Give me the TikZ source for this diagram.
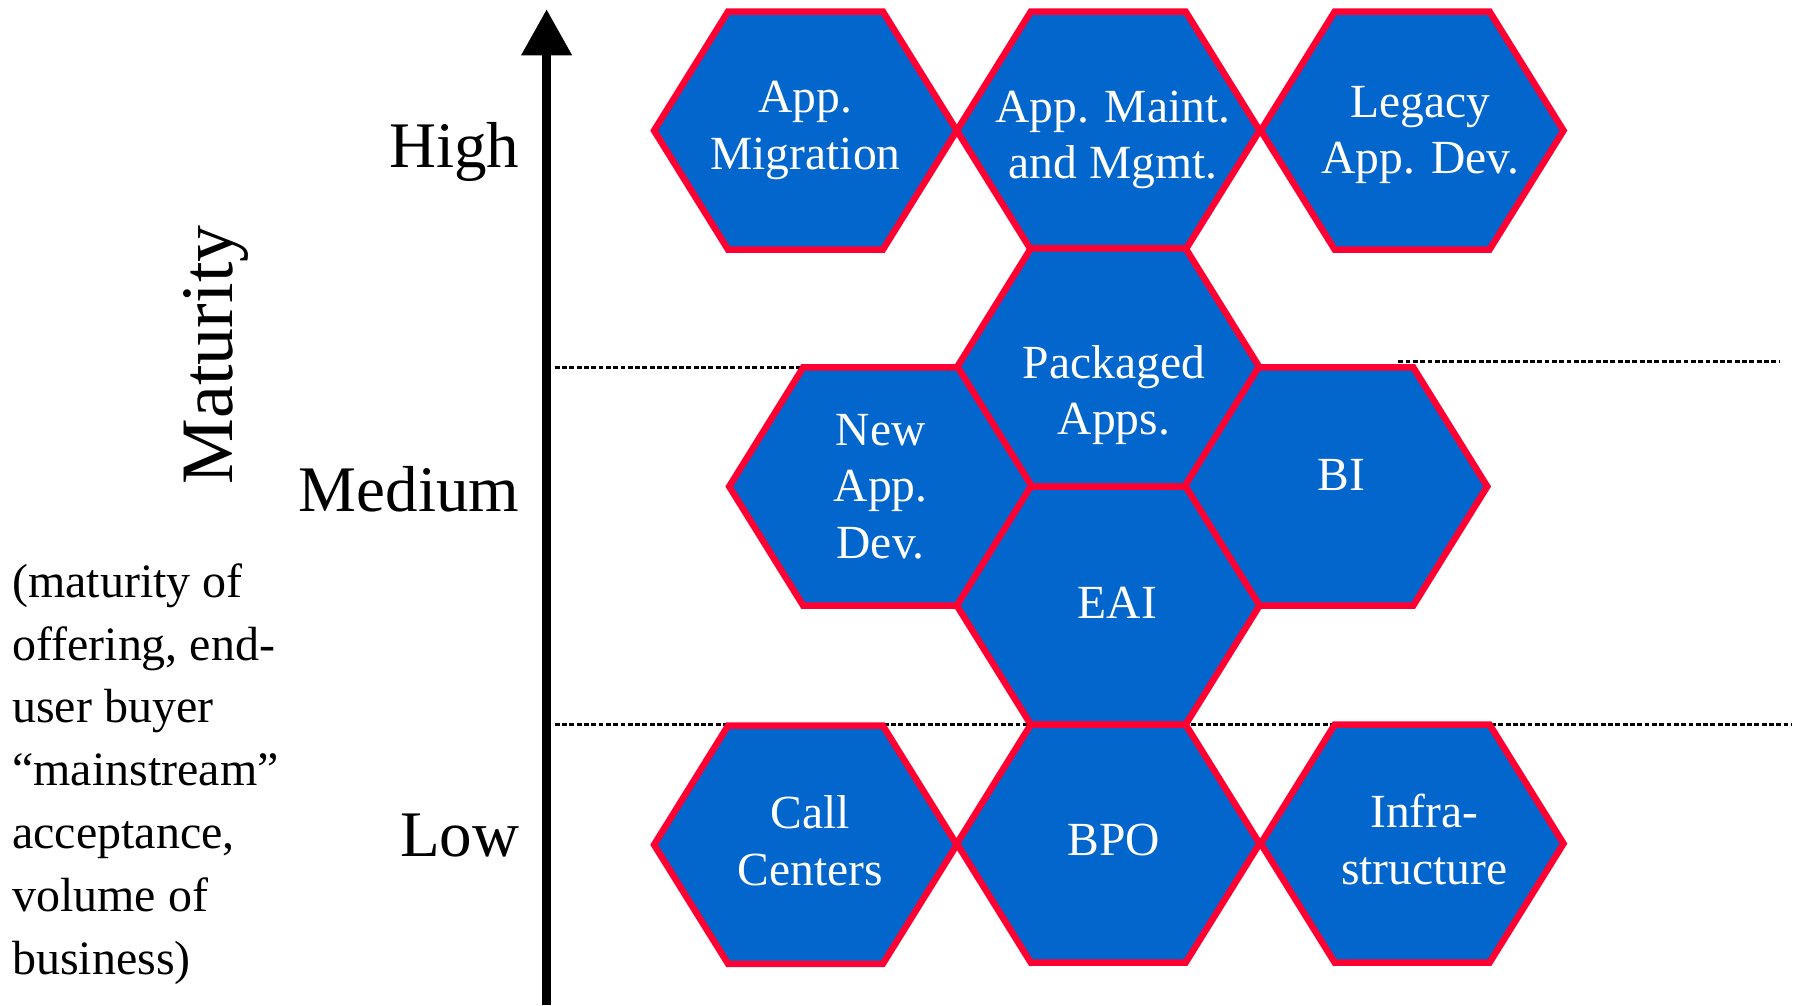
\documentclass[tikz,border=0pt]{standalone}
\usepackage{fontspec}
\setmainfont{Liberation Serif}
\usepackage{tikz}
\usetikzlibrary{calc,positioning,arrows.meta}
\definecolor{hexblue}{RGB}{3,102,204}
\definecolor{hexred}{RGB}{255,0,51}
\tikzset{
	honey/.style={
		fill=hexblue,
		draw=hexred, line width=1.6pt,
		line join=miter},
	hextext/.style={
		text=white,
		align=center,
		inner sep=0pt,
		font=\fontsize{11.7}{13.9}\selectfont},
	level/.style={
		anchor=base east,
		inner sep=0pt,
		font=\fontsize{16}{19}\selectfont},
	axis/.style={line width=2.3pt, -{Triangle[width=0.42cm,length=0.4cm]}},
	band/.style={line width=0.6pt, dash pattern=on 1.2pt off 0.6pt},
}
% #1 text shift, #2 name, #3 centre, #4 text
\newcommand{\hexcell}[4][]{%
	\draw[honey, shift={(#3)}] (-131,0) -- (-67,-103) -- (67,-103)
		-- (131,0) -- (67,103) -- (-67,103) -- cycle;
	\node[hextext, #1] (#2) at (#3) {#4};
}

\begin{document}
\begin{tikzpicture}[x=0.01cm, y=-0.01cm]
	\useasboundingbox (0,0) rectangle (1568,870);
	
	\coordinate (axisbot) at (473,870);
	\coordinate (axistop) at (473,8);
	\coordinate (midL) at (480,318);
	\coordinate (midLend) at (693,318);
	\coordinate (midR) at (1210,313);
	\coordinate (midRend) at (1540,313);
	\coordinate (lowL) at (480,627);
	\coordinate (lowR) at (1550,627);
	
	\draw[band] (midL) -- (midLend);
	\draw[band] (midR) -- (midRend);
	\draw[band] (lowL) -- (lowR);
	
	\hexcell{mig}{697,113}{App.\\Migration}
	\hexcell[xshift=0.04cm, yshift=-0.08cm]{maint}{959,113}{App. Maint.\\and Mgmt.}
	\hexcell[xshift=0.07cm, yshift=-0.04cm]{legacy}{1222,113}{Legacy\\App. Dev.}
	\hexcell[xshift=0.05cm, yshift=-0.24cm]{pack}{959,318}{Packaged\\Apps.}
	\hexcell{newdev}{762,421}{New\\App.\\Dev.}
	\hexcell[xshift=0.05cm, yshift=0.1cm]{bi}{1156,421}{BI}
	\hexcell[xshift=0.08cm, yshift=0.02cm]{eai}{959,524}{EAI}
	\hexcell[xshift=0.04cm, yshift=1pt]{call}{697,731}{Call\\Centers}
	\hexcell[xshift=0.05cm, yshift=0.03cm]{bpo}{959,730}{BPO}
	\hexcell[xshift=3pt, yshift=1pt]{infra}{1222,730}{Infra-\\structure}
	
	\draw[axis] (axisbot) -- (axistop);
	
	\node[level] (high) at (450,145) {High};
	\node[level] (medium) at (450,443) {Medium};
	\node[level] (low) at (450,741) {Low};
	\node[rotate=90, inner sep=0pt, font=\fontsize{18.2}{21}\selectfont] (maturity) at (187,307) {Maturity};
	\node[anchor=north west, inner sep=0pt, align=left,
		font=\fontsize{11.8}{15.45}\selectfont] (note) at (10,487)
		{(maturity of\\offering, end-\\user buyer\\“mainstream”\\acceptance,\\volume of\\business)};
\end{tikzpicture}
\end{document}
